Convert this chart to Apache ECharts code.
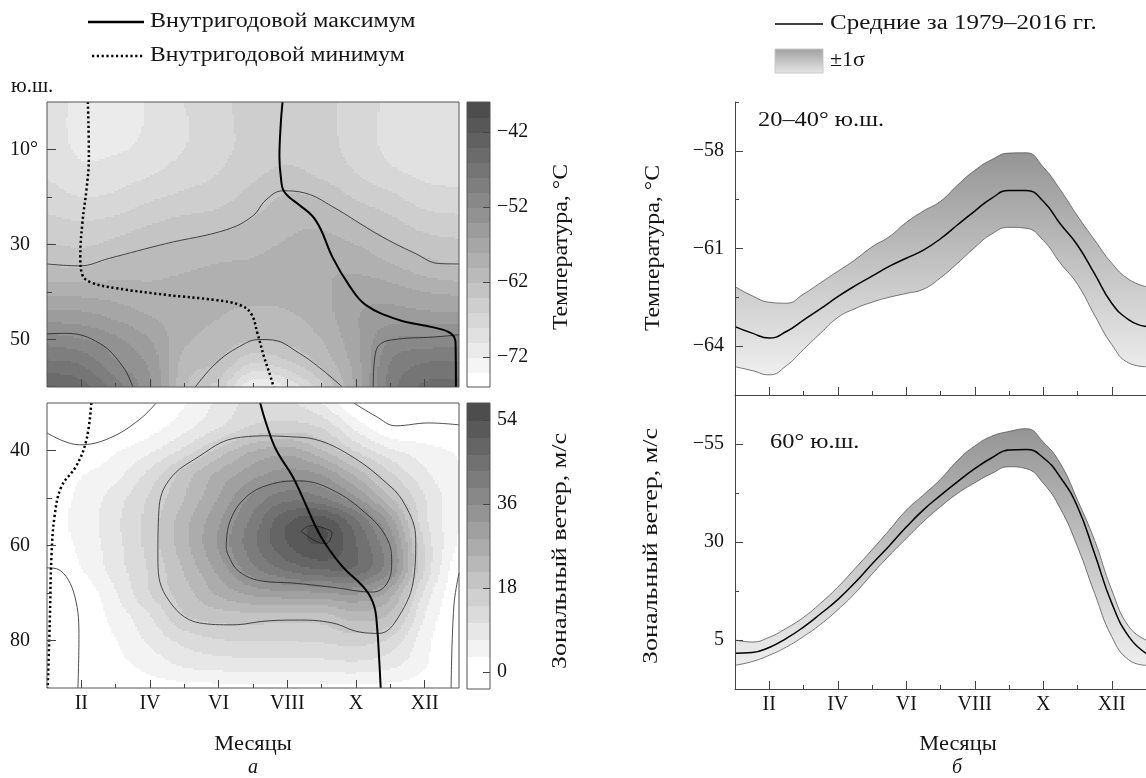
<!DOCTYPE html>
<html><head><meta charset="utf-8">
<script src="https://cdn.jsdelivr.net/npm/echarts@6/dist/echarts.min.js"></script>
<style>html,body{margin:0;padding:0;background:#fff}#c{width:1146px;height:778px}</style>
</head><body><div id="c"></div>
<script>
// ================= DATA =================
const monthGrid = [1,2,3,4,5,6,7,8,9,10,11,12,13];
const monthLabels = {2:'II',4:'IV',6:'VI',8:'VIII',10:'X',12:'XII'};

// --- panel a, top: temperature field (rows = latitude, cols = months 1..13)
const tempLat = [0,5,10,15,20,25,30,35,40,45,50,55,60];
const tempField = [
  [-69.0,-70.4,-70.3,-69.8,-68.0,-66.5,-65.2,-65.0,-65.5,-66.8,-68.5,-69.3,-69.3],
  [-69.0,-70.5,-70.4,-69.8,-68.2,-66.7,-65.3,-65.0,-65.5,-66.8,-68.6,-69.4,-69.3],
  [-68.8,-70.3,-70.2,-69.4,-68.0,-66.6,-65.3,-64.8,-65.3,-66.7,-68.5,-69.3,-69.2],
  [-68.2,-69.5,-69.0,-68.2,-67.0,-66.0,-64.5,-63.5,-64.5,-66.0,-67.5,-68.5,-68.8],
  [-67.0,-68.0,-67.6,-66.4,-65.5,-64.8,-63.2,-61.8,-62.3,-64.3,-65.5,-67.0,-67.3],
  [-65.5,-66.0,-65.5,-64.3,-63.5,-63.0,-61.8,-60.6,-60.5,-62.0,-63.5,-65.0,-65.5],
  [-63.8,-64.3,-63.3,-62.3,-61.6,-61.0,-60.5,-59.8,-59.3,-60.0,-61.7,-63.0,-63.5],
  [-61.8,-61.9,-61.0,-60.5,-60.2,-59.8,-59.7,-59.3,-58.3,-58.4,-59.5,-61.0,-61.9],
  [-58.5,-58.7,-59.0,-59.6,-59.5,-59.3,-59.2,-59.2,-58.5,-56.8,-57.0,-58.0,-58.5],
  [-55.0,-55.3,-56.5,-58.0,-59.0,-59.9,-60.8,-60.3,-59.0,-56.2,-55.0,-55.3,-55.5],
  [-51.0,-51.8,-53.5,-56.0,-59.5,-61.0,-61.8,-61.4,-60.0,-56.5,-52.0,-51.5,-51.2],
  [-47.5,-48.3,-51.8,-54.5,-60.8,-62.1,-66.0,-64.5,-61.5,-57.0,-50.0,-48.0,-47.7],
  [-43.5,-45.0,-49.0,-53.5,-61.7,-65.0,-72.0,-70.0,-64.5,-57.5,-49.0,-45.5,-45.0]
];
const tempLevels = [-76,-74,-72,-70,-68,-66,-64,-62,-60,-58,-56,-54,-52,-50,-48,-46,-44,-42,-40,-38];
const tempTicks = [-72,-62,-52,-42];
// contour lines (month, latitude)
const tempIso62North = [[1,34.1],[1.95,34.5],[2.82,32.9],[4.47,29.8],[6.22,26.9],[6.99,24],[7.38,20.6],[7.86,18.7],[8.53,19.2],[9.31,22],[10.67,28],[11.73,31.9],[12.41,34],[13,34.1]];
const tempIso52West = [[1,48.8],[1.56,48.7],[2.53,50.8],[3.21,55.7],[3.5,60]];
const tempIso62South = [[5.32,60],[5.92,55],[6.6,51.5],[7.18,50],[7.57,50.1],[8.35,52.9],[9.02,56.4],[9.6,60]];
const tempIso52East = [[13,49],[12.22,49.5],[11.25,49.9],[10.72,50.9],[10.55,53.6],[10.5,60]];
const tempMaxLine = [[7.86,0],[7.81,4.5],[7.77,11.5],[7.81,15.7],[7.91,18.9],[8.35,21.7],[8.73,24],[8.98,26.9],[9.31,32.6],[9.8,38.6],[10.28,42.7],[11.25,45.9],[12.22,47.4],[12.76,48.7],[12.9,50.8],[12.91,60]];
const tempMinLine = [[2.19,0],[2.22,11.5],[2.16,17.8],[2.03,25.5],[1.97,32.6],[2.03,36.4],[2.29,38],[3.02,39.2],[4.47,40.6],[5.92,41.7],[6.6,42.7],[6.94,44.5],[7.13,48.7],[7.32,53.6],[7.51,57.8],[7.6,60]];

// --- panel a, bottom: zonal wind field
const windLat = [30,35,40,45,50,55,60,65,70,75,80,85,90];
const windField = [
  [-2.5,-3.5,-2.8,-0.6, 3.2, 8.0,12.0,11.5, 7.0,-0.3,-2.0,-2.3,-2.4],
  [-0.5,-1.5,-0.5, 2.0, 6.0,10.5,15.0,16.0,14.0, 6.0, 0.5, 0.3, 0.2],
  [ 0.8, 0.6, 3.2, 6.5,12.0,19.0,25.0,27.0,22.0,14.0, 8.0, 5.0, 3.0],
  [ 1.2, 3.3, 6.0,12.0,19.5,26.0,31.0,34.0,32.0,24.0,15.0, 8.0, 3.8],
  [ 1.5, 4.5, 9.0,15.0,21.5,29.0,37.0,42.0,40.0,33.0,22.0,11.0, 4.0],
  [ 1.8, 5.0,10.0,16.0,24.0,32.0,41.0,50.0,53.0,44.0,31.0,12.0, 3.8],
  [ 0.8, 4.5, 9.5,16.0,24.0,33.0,42.0,50.0,53.8,47.0,35.5,14.0, 2.5],
  [-0.3, 3.5, 9.0,15.0,22.0,30.0,38.5,44.0,47.0,46.0,36.0,14.0, 0.1],
  [-1.0, 1.0, 7.0,14.5,20.0,26.0,30.0,31.5,32.0,33.0,27.0,10.0,-0.5],
  [-1.5, 0.5, 5.0,10.5,17.5,19.5,20.0,19.8,20.0,23.0,20.5, 7.0,-0.8],
  [-1.8, 0.2, 3.5, 8.0,12.0,14.0,14.5,14.5,15.0,16.0,13.5, 5.0,-1.0],
  [-2.0, 0.0, 2.5, 5.0, 8.0, 9.0, 9.3, 9.3, 9.5,10.0, 8.5, 4.0,-1.0],
  [-2.0, 0.0, 1.0, 1.8, 2.0, 2.2, 2.2, 2.2, 2.2, 2.2, 2.2, 1.5,-1.0]
];
const windLevels = [-3.6,0,3.6,7.2,10.8,14.4,18,21.6,25.2,28.8,32.4,36,39.6,43.2,46.8,50.4,54,57.6];
const windTicks = [0,18,36,54];
const windIso0NW = [[1,36.3],[1.95,38.8],[2.82,37.4],[3.69,33.5],[4.18,30]];
const windIso0NE = [[9.94,30],[10.58,32.8],[11.16,34.8],[12.12,34.2],[13,34.6]];
const windIso0W = [[1,64.7],[1.32,65],[1.81,70.7],[1.93,79.8],[1.9,90]];
const windIso0E = [[13,65.8],[12.85,72.8],[12.77,90]];
const windIso18 = [[7.38,36.9],[6.41,37.5],[5.44,41.2],[4.57,46.1],[4.26,52.5],[4.23,62.3],[4.47,70.7],[5.44,76.3],[6.41,76.7],[7.38,75.9],[8.35,75.7],[9.31,76.3],[10.09,78.2],[10.67,78.5],[11.25,74.9],[11.69,66.5],[11.74,58.8],[11.4,51.1],[10.77,46.1],[9.8,40.9],[8.83,37.7],[8.06,37.1],[7.38,36.9]];
const windIso36 = [[6.22,60.2],[6.31,55.3],[6.8,49.8],[7.57,47],[8.35,46.4],[9.31,48.3],[10.28,53.2],[10.87,58.1],[11.04,63],[10.91,67.9],[10.48,69.8],[9.31,68.8],[8.15,67.9],[7.28,67.5],[6.6,65.5],[6.27,61.9],[6.22,60.2]];
const windIso54 = [[8.4,57],[8.69,55.8],[9.06,56.3],[9.3,57.4],[9.12,59.6],[8.83,59.1],[8.4,57]];
const windMaxLine = [[7.21,30],[7.38,34.2],[7.67,39.8],[8.15,45.4],[8.44,49.8],[8.83,56.1],[9.12,59.8],[9.6,64.4],[10.28,69.3],[10.53,72.8],[10.62,77.7],[10.67,83.3],[10.72,90]];
const windMinLine = [[2.29,30],[2.15,37.7],[1.85,43.3],[1.42,47.6],[1.22,53.9],[1.13,62.3],[1.08,76.3],[1.02,90]];

// --- panel b: seasonal cycles
const seasonMonths = [1,1.5,2,2.5,3,3.5,4,4.5,5,5.5,6,6.5,7,7.5,8,8.5,9,9.5,10,10.5,11,11.5,12,12.5,13];
const t2040Mean = [-63.4,-63.6,-63.75,-63.55,-63.2,-62.85,-62.48,-62.15,-61.85,-61.55,-61.3,-61.05,-60.7,-60.27,-59.85,-59.45,-59.22,-59.22,-59.55,-60.25,-60.9,-61.78,-62.68,-63.19,-63.4];
const t2040Upper = [-62.17,-62.45,-62.65,-62.68,-62.4,-62.05,-61.7,-61.35,-60.95,-60.64,-60.2,-59.85,-59.55,-59.05,-58.6,-58.27,-58.07,-58.06,-58.5,-59.2,-60.0,-60.74,-61.45,-61.95,-62.17];
const t2040Lower = [-64.63,-64.75,-64.88,-64.6,-64.1,-63.6,-63.12,-62.85,-62.65,-62.5,-62.38,-62.25,-61.9,-61.45,-60.97,-60.55,-60.35,-60.38,-60.75,-61.45,-62.1,-63.05,-63.95,-64.52,-64.63];
const u60Mean = [1.6,1.8,3.1,5.4,8.3,11.7,15.3,19.6,24.4,29.0,33.8,38.2,41.9,45.4,48.7,51.5,53.5,53.6,51.5,46.5,39.0,27.0,14.4,5.85,1.6];
const u60Upper = [5.0,4.5,5.7,8.0,10.8,14.4,18.5,23.2,28.0,33.0,38.1,42.0,46.0,50.8,54.5,57.0,58.2,58.9,55.5,50.0,40.7,30.4,17.75,8.4,5.0];
const u60Lower = [-1.45,-0.5,1.1,3.2,5.9,9.0,12.7,16.9,21.8,26.5,30.9,35.2,39.0,42.4,45.1,47.5,49.2,48.7,45.0,38.5,28.8,16.9,5.85,-0.1,-1.45];
const tempTicksB = [-64,-61,-58];
const windTicksB = [5,30,55];

// ================= HELPERS =================
const FONT = '"Liberation Serif", "DejaVu Serif", serif';
const TXT = '#151515';
function zip(xs, ys){ return xs.map((x,i)=>[x, ys[i]]); }
function grayRamp(n, whiteCount){
  const out=[];
  for(let k=0;k<n;k++){
    const t = k<whiteCount?0:(k-whiteCount+1)/(n-whiteCount);
    const g = Math.round(255 - t*178);
    out.push('rgb('+g+','+g+','+g+')');
  }
  return out;
}
const tempColors = grayRamp(tempLevels.length-1, 1);
const windColors = grayRamp(windLevels.length-1, 2);
function node(F, r, c){
  const nr=F.length, nc=F[0].length;
  if (r<0) return 2*node(F,0,c)-node(F,1,c);
  if (r>nr-1) return 2*node(F,nr-1,c)-node(F,nr-2,c);
  if (c<0) return 2*F[r][0]-F[r][1];
  if (c>nc-1) return 2*F[r][nc-1]-F[r][nc-2];
  return F[r][c];
}
function cr(p0,p1,p2,p3,t){ return 0.5*((2*p1)+(-p0+p2)*t+(2*p0-5*p1+4*p2-p3)*t*t+(-p0+3*p1-3*p2+p3)*t*t*t); }
function sample(F, fx, fy){
  const nr=F.length, nc=F[0].length;
  const c = Math.min(Math.max(Math.floor(fx),0),nc-2), t = fx-c;
  const r = Math.min(Math.max(Math.floor(fy),0),nr-2), s = fy-r;
  const rows=[];
  for(let rr=r-1; rr<=r+2; rr++) rows.push(cr(node(F,rr,c-1),node(F,rr,c),node(F,rr,c+1),node(F,rr,c+2),t));
  return cr(rows[0],rows[1],rows[2],rows[3],s);
}
function band(levels, v){
  let k=0; while(k<levels.length-2 && v>=levels[k+1]) k++; return k;
}
function makeFieldRender(F, lats, levels, colors){
  return function(params, api){
    const ci = api.value(0), rj = api.value(1);
    const m0 = monthGrid[ci], m1 = monthGrid[ci+1], l0 = lats[rj], l1 = lats[rj+1];
    const NX=16, NY=12, xs=[], ys=[];
    for(let a=0;a<=NX;a++) xs.push(Math.round(api.coord([m0+(m1-m0)*a/NX, l0])[0]));
    for(let b=0;b<=NY;b++) ys.push(Math.round(api.coord([m0, l0+(l1-l0)*b/NY])[1]));
    const children=[];
    for(let b=0;b<NY;b++){
      const y=Math.min(ys[b],ys[b+1]), h=Math.abs(ys[b+1]-ys[b]);
      if(h<=0) continue;
      let runStart=0, runColor=null;
      for(let a=0;a<=NX;a++){
        let col=null;
        if(a<NX){ const v=sample(F, ci+(a+0.5)/NX, rj+(b+0.5)/NY); col=colors[band(levels,v)]; }
        if(a===NX || col!==runColor){
          if(runColor!==null){
            const x=Math.min(xs[runStart],xs[a]), w=Math.abs(xs[a]-xs[runStart]);
            if(w>0) children.push({type:'rect', shape:{x:x,y:y,width:w,height:h}, style:{fill:runColor}});
          }
          runStart=a; runColor=col;
        }
      }
    }
    return {type:'group', children};
  };
}
function cells(){ const out=[]; for(let i=0;i<12;i++) for(let j=0;j<12;j++) out.push([i,j]); return out; }
function cbarRender(levels, colors){
  return function(params, api){
    const k=api.value(0);
    const p0=api.coord([0, levels[k]]), p1=api.coord([1, levels[k+1]]);
    return {type:'rect', shape:{x:Math.round(Math.min(p0[0],p1[0])), y:Math.round(Math.min(p0[1],p1[1])), width:Math.round(Math.abs(p1[0]-p0[0])), height:Math.round(Math.abs(p1[1]-p0[1]))+1}, style:{fill:colors[k]}};
  };
}
const minus = v => (v<0?'\u2212'+Math.abs(v):String(v));
const lbl = {color:TXT, fontFamily:FONT, fontSize:20};
const tickStyle = {color:'#444', width:1};

function monthMajor(gi, showLabels, showLine){
  return {gridIndex:gi, type:'value', min:1, max:13, position:'bottom', z:10,
     axisLine:{show:showLine, onZero:false, lineStyle:{color:'#444', width:1}}, splitLine:{show:false},
     axisTick:{show:true, inside:true, length:8, customValues:[2,4,6,8,10,12], lineStyle:tickStyle},
     axisLabel:{show:showLabels, customValues:[2,4,6,8,10,12], formatter:v=>monthLabels[v]||'', margin:6, ...lbl}};
}
function monthMinor(gi){
  return {gridIndex:gi, type:'value', min:1, max:13, position:'bottom', z:10,
     axisLine:{show:false, onZero:false}, splitLine:{show:false},
     axisTick:{show:true, inside:true, length:4, customValues:[3,5,7,9,11], lineStyle:tickStyle},
     axisLabel:{show:false}};
}
function hiddenX(gi){ return {gridIndex:gi, type:'value', min:0, max:1, show:false, axisLine:{onZero:false}}; }
function minorY(gi, min, max, inverse, vals, len){
  return {gridIndex:gi, type:'value', min:min, max:max, inverse:inverse, position:'left', z:10,
    axisLine:{show:false, onZero:false}, splitLine:{show:false},
    axisTick:{inside:true, length:len, customValues:vals, lineStyle:tickStyle}, axisLabel:{show:false}};
}

const boxGrid = {show:true, borderColor:'#555', borderWidth:1, backgroundColor:'rgba(0,0,0,0)', z:10};
const grid = [
  {left:47, top:102, width:412, height:285, ...boxGrid},   // 0 field T
  {left:47, top:403, width:412, height:285, ...boxGrid},   // 1 field U
  {left:467, top:102, width:23, height:285, ...boxGrid},   // 2 cbar T
  {left:467, top:403, width:23, height:286, ...boxGrid},   // 3 cbar U
  {left:735, top:102, width:411, height:293},              // 4 season T
  {left:735, top:395, width:411, height:294},              // 5 season U
  {left:47, top:102, width:412, height:285},               // 6 minor ticks for 0
  {left:47, top:403, width:412, height:285},               // 7 minor ticks for 1
  {left:735, top:102, width:411, height:293},              // 8 minor ticks for 4
  {left:735, top:395, width:411, height:294}               // 9 minor ticks for 5
];

const xAxis = [
  monthMajor(0,false,false), monthMajor(1,true,false), hiddenX(2), hiddenX(3),
  monthMajor(4,false,true), monthMajor(5,true,true),
  monthMinor(6), monthMinor(7), monthMinor(8), monthMinor(9)
];

const yAxis = [
  {gridIndex:0, type:'value', min:0, max:60, inverse:true, z:10, axisLine:{show:false, onZero:false}, splitLine:{show:false},
   axisTick:{inside:true, length:9, customValues:[10,30,50], lineStyle:tickStyle},
   axisLabel:{customValues:[10,30,50], formatter:v=>v===10?'10°':String(v), align:'left', margin:37, ...lbl}},
  {gridIndex:1, type:'value', min:30, max:90, inverse:true, z:10, axisLine:{show:false, onZero:false}, splitLine:{show:false},
   axisTick:{inside:true, length:9, customValues:[40,60,80], lineStyle:tickStyle},
   axisLabel:{customValues:[40,60,80], align:'left', margin:37, ...lbl}},
  {gridIndex:2, type:'value', min:-76, max:-38, position:'right', z:10, axisLine:{show:false, onZero:false}, splitLine:{show:false},
   axisTick:{inside:true, length:7, customValues:tempTicks, lineStyle:tickStyle},
   axisLabel:{customValues:tempTicks, formatter:minus, margin:7, ...lbl}},
  {gridIndex:3, type:'value', min:-3.6, max:57.6, position:'right', z:10, axisLine:{show:false, onZero:false}, splitLine:{show:false},
   axisTick:{inside:true, length:7, customValues:windTicks, lineStyle:tickStyle},
   axisLabel:{customValues:windTicks, margin:7, ...lbl}},
  {gridIndex:4, type:'value', min:-65.5, max:-56.5, position:'left', z:10, axisLine:{show:true, onZero:false, lineStyle:{color:'#444'}}, splitLine:{show:false},
   axisTick:{inside:true, length:8, customValues:tempTicksB, lineStyle:tickStyle},
   axisLabel:{customValues:tempTicksB, formatter:minus, margin:11, ...lbl}},
  {gridIndex:5, type:'value', min:-7.5, max:67.5, position:'left', z:10, axisLine:{show:true, onZero:false, lineStyle:{color:'#444'}}, splitLine:{show:false},
   axisTick:{inside:true, length:8, customValues:windTicksB, lineStyle:tickStyle},
   axisLabel:{customValues:windTicksB, formatter:v=>v===55?'\u221255':String(v), margin:11, ...lbl}},
  minorY(6, 0, 60, true, [20,40], 5),
  minorY(7, 30, 90, true, [50,70], 5),
  minorY(8, -65.5, -56.5, false, [-62.5,-59.5,-56.5], 4),
  minorY(9, -7.5, 67.5, false, [17.5,42.5], 4)
];

function iso(xi, yi, data, color, width, type){
  return {type:'line', xAxisIndex:xi, yAxisIndex:yi, data:data, smooth:0.4, symbol:'none', silent:true, z:5,
          lineStyle:{color:color, width:width, type:type||'solid', cap:'butt'}};
}
const bandGrad = () => new echarts.graphic.LinearGradient(0,0,0,1,[{offset:0,color:'#959595'},{offset:0.91,color:'#eeeeee'},{offset:1,color:'#f2f2f2'}]);
function bandSeries(xi, yi, lower, upper, mean){
  return [
    {type:'line', xAxisIndex:xi, yAxisIndex:yi, data:zip(seasonMonths, upper), smooth:0.5, symbol:'none', silent:true, z:3,
     lineStyle:{color:'#555', width:0.8}, areaStyle:{color:bandGrad(), opacity:1, origin:'start'}},
    {type:'line', xAxisIndex:xi, yAxisIndex:yi, data:zip(seasonMonths, lower), smooth:0.5, symbol:'none', silent:true, z:3,
     lineStyle:{color:'#555', width:0.8}, areaStyle:{color:'#ffffff', opacity:1, origin:'start'}},
    {type:'line', xAxisIndex:xi, yAxisIndex:yi, data:zip(seasonMonths, mean), smooth:0.5, symbol:'none', silent:true, z:4,
     lineStyle:{color:'#000', width:1.5}}
  ];
}

const series = [
  {type:'custom', xAxisIndex:0, yAxisIndex:0, data:cells(), renderItem:makeFieldRender(tempField, tempLat, tempLevels, tempColors), silent:true, z:1, clip:true, progressive:0},
  iso(0,0,tempIso62North,'#222',0.8), iso(0,0,tempIso52West,'#222',0.8), iso(0,0,tempIso62South,'#222',0.8), iso(0,0,tempIso52East,'#222',0.8),
  iso(0,0,tempMaxLine,'#000',2), iso(0,0,tempMinLine,'#000',2.5,[2.2,2.6]),
  {type:'custom', xAxisIndex:1, yAxisIndex:1, data:cells(), renderItem:makeFieldRender(windField, windLat, windLevels, windColors), silent:true, z:1, clip:true, progressive:0},
  iso(1,1,windIso0NW,'#222',0.8), iso(1,1,windIso0NE,'#222',0.8), iso(1,1,windIso0W,'#222',0.8), iso(1,1,windIso0E,'#222',0.8),
  iso(1,1,windIso18,'#222',0.8), iso(1,1,windIso36,'#222',0.8), iso(1,1,windIso54,'#222',0.8),
  iso(1,1,windMaxLine,'#000',2), iso(1,1,windMinLine,'#000',2.5,[2.2,2.6]),
  {type:'custom', xAxisIndex:2, yAxisIndex:2, data:tempLevels.slice(0,-1).map((v,k)=>[k,v]), renderItem:cbarRender(tempLevels,tempColors), silent:true, z:1},
  {type:'custom', xAxisIndex:3, yAxisIndex:3, data:windLevels.slice(0,-1).map((v,k)=>[k,v]), renderItem:cbarRender(windLevels,windColors), silent:true, z:1}
].concat(bandSeries(4,4,t2040Lower,t2040Upper,t2040Mean), bandSeries(5,5,u60Lower,u60Upper,u60Mean));

function txt(x,y,text,opts){
  opts = opts||{};
  return Object.assign({type:'text', x:x, y:y, silent:true, z:20, scaleX:opts.sx||1,
    style:Object.assign({text:text, fill:TXT, fontFamily:FONT, fontSize:20, align:'left', verticalAlign:'middle'}, opts.style||{})},
    opts.el||{});
}
const graphic = [
  {type:'line', shape:{x1:88,y1:22,x2:144,y2:22}, style:{stroke:'#000', lineWidth:2.5}, silent:true},
  txt(150,22,'Внутригодовой максимум',{sx:1.2}),
  {type:'line', shape:{x1:92,y1:56,x2:144,y2:56}, style:{stroke:'#000', lineWidth:2.5, lineDash:[2.2,2.6]}, silent:true},
  txt(150,56,'Внутригодовой минимум',{sx:1.18}),
  txt(11,87,'ю.ш.',{sx:1.05}),
  {type:'line', shape:{x1:775,y1:24,x2:823,y2:24}, style:{stroke:'#000', lineWidth:1.3}, silent:true},
  txt(830,24,'Средние за 1979–2016 гг.',{sx:1.25}),
  {type:'rect', shape:{x:775,y:49,width:48,height:24}, style:{fill:new echarts.graphic.LinearGradient(0,0,0,1,[{offset:0,color:'#a0a0a0'},{offset:1,color:'#e6e6e6'}]), stroke:'#c8c8c8', lineWidth:1}, silent:true},
  txt(830,61,'±1σ',{sx:1.1}),
  txt(758,121,'20–40° ю.ш.',{sx:1.22}),
  txt(770,443,'60° ю.ш.',{sx:1.22}),
  txt(253,745,'Месяцы',{sx:1.12, style:{align:'center'}}),
  txt(958,745,'Месяцы',{sx:1.12, style:{align:'center'}}),
  txt(253,768,'а',{style:{align:'center', fontStyle:'italic'}}),
  txt(957,768,'б',{style:{align:'center', fontStyle:'italic'}}),
  txt(562,247,'Температура, °C',{sx:1.19, style:{align:'center'}, el:{rotation:Math.PI/2}}),
  txt(561,551,'Зональный ветер, м/с',{sx:1.3, style:{align:'center'}, el:{rotation:Math.PI/2}}),
  txt(654,248,'Температура, °C',{sx:1.19, style:{align:'center'}, el:{rotation:Math.PI/2}}),
  txt(652,546,'Зональный ветер, м/с',{sx:1.3, style:{align:'center'}, el:{rotation:Math.PI/2}})
];

const chart = echarts.init(document.getElementById('c'), null, {renderer:'canvas'});
chart.setOption({animation:false, backgroundColor:'#fff', grid, xAxis, yAxis, series, graphic});
</script></body></html>
